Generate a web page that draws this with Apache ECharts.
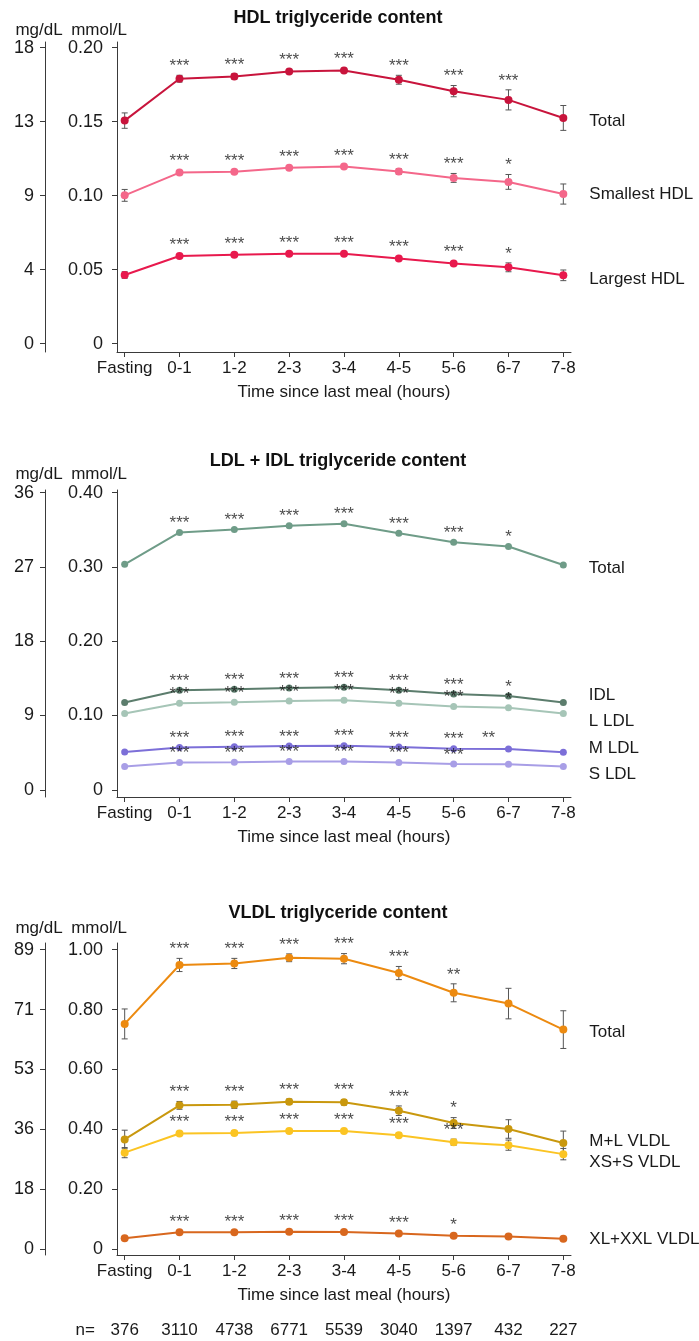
<!DOCTYPE html>
<html>
<head>
<meta charset="utf-8">
<script src="https://cdn.jsdelivr.net/npm/echarts@6/dist/echarts.min.js"></script>
<style>
  html, body { margin: 0; padding: 0; background: #fff; }
  #chart { width: 699px; height: 1341px; }
</style>
</head>
<body>
<div id="chart"></div>
<script>
// categories and sample sizes
const categories = ['Fasting', '0-1', '1-2', '2-3', '3-4', '4-5', '5-6', '6-7', '7-8'];
const nCounts = ['376', '3110', '4738', '6771', '5539', '3040', '1397', '432', '227'];

// HDL triglycerides (mmol/L), error = half length of bar
const hdlTotal = [0.1507, 0.1790, 0.1805, 0.1839, 0.1846, 0.1783, 0.1706, 0.1647, 0.1525];
const hdlTotalErr = [0.0052, 0.0023, 0.0018, 0.0014, 0.0014, 0.0030, 0.0038, 0.0068, 0.0084];
const hdlTotalSig = ['', '***', '***', '***', '***', '***', '***', '***', ''];
const hdlSmallest = [0.1002, 0.1156, 0.1161, 0.1188, 0.1197, 0.1163, 0.1120, 0.1093, 0.1011];
const hdlSmallestErr = [0.0040, 0.0014, 0.0011, 0.0009, 0.0009, 0.0018, 0.0030, 0.0050, 0.0068];
const hdlSmallestSig = ['', '***', '***', '***', '***', '***', '***', '*', ''];
const hdlLargest = [0.0464, 0.0592, 0.0601, 0.0608, 0.0608, 0.0576, 0.0541, 0.0516, 0.0462];
const hdlLargestErr = [0.0022, 0.0010, 0.0009, 0.0009, 0.0009, 0.0011, 0.0013, 0.0030, 0.0036];
const hdlLargestSig = ['', '***', '***', '***', '***', '***', '***', '*', ''];

// LDL + IDL triglycerides (mmol/L)
const ldlTotal = [0.3036, 0.3464, 0.3505, 0.3554, 0.3581, 0.3455, 0.3333, 0.3275, 0.3027];
const ldlTotalSig = ['', '***', '***', '***', '***', '***', '***', '*', ''];
const idl = [0.1174, 0.1339, 0.1353, 0.1370, 0.1380, 0.1339, 0.1290, 0.1263, 0.1174];
const idlSig = ['', '***', '***', '***', '***', '***', '***', '*', ''];
const lLdl = [0.1027, 0.1165, 0.1179, 0.1196, 0.1205, 0.1165, 0.1120, 0.1103, 0.1027];
const lLdlSig = ['', '***', '***', '***', '***', '***', '***', '*', ''];
const mLdl = [0.0509, 0.0571, 0.0580, 0.0589, 0.0594, 0.0576, 0.0554, 0.0549, 0.0504];
const mLdlSig = ['', '***', '***', '***', '***', '***', '***', '**', ''];
const sLdl = [0.0312, 0.0366, 0.0370, 0.0380, 0.0380, 0.0366, 0.0348, 0.0344, 0.0312];
const sLdlSig = ['', '***', '***', '***', '***', '***', '***', '', ''];

// VLDL triglycerides (mmol/L)
const vldlTotal = [0.752, 0.949, 0.954, 0.973, 0.970, 0.922, 0.856, 0.820, 0.733];
const vldlTotalErr = [0.050, 0.022, 0.017, 0.013, 0.017, 0.022, 0.030, 0.051, 0.063];
const vldlTotalSig = ['', '***', '***', '***', '***', '***', '**', '', ''];
const mlVldl = [0.366, 0.480, 0.482, 0.492, 0.490, 0.462, 0.421, 0.401, 0.354];
const mlVldlErr = [0.031, 0.013, 0.012, 0.009, 0.009, 0.016, 0.018, 0.031, 0.040];
const mlVldlSig = ['', '***', '***', '***', '***', '***', '*', '', ''];
const xsVldl = [0.322, 0.386, 0.388, 0.394, 0.394, 0.380, 0.357, 0.347, 0.317];
const xsVldlErr = [0.017, 0.006, 0.006, 0.006, 0.006, 0.007, 0.010, 0.017, 0.019];
const xsVldlSig = ['', '***', '***', '***', '***', '***', '***', '', ''];
const xlVldl = [0.036, 0.056, 0.056, 0.058, 0.057, 0.052, 0.044, 0.042, 0.034];
const xlVldlErr = [0.004, 0.004, 0.004, 0.004, 0.004, 0.004, 0.004, 0.004, 0.004];
const xlVldlSig = ['', '***', '***', '***', '***', '***', '*', '', ''];

// tick values and labels of the paired axes
const hdlTicks = [0, 0.05, 0.10, 0.15, 0.20];
const hdlMmolLabels = ['0', '0.05', '0.10', '0.15', '0.20'];
const hdlMgLabels = ['0', '4', '9', '13', '18'];
const ldlTicks = [0, 0.10, 0.20, 0.30, 0.40];
const ldlMmolLabels = ['0', '0.10', '0.20', '0.30', '0.40'];
const ldlMgLabels = ['0', '9', '18', '27', '36'];
const vldlTicks = [0, 0.20, 0.40, 0.60, 0.80, 1.00];
const vldlMmolLabels = ['0', '0.20', '0.40', '0.60', '0.80', '1.00'];
const vldlMgLabels = ['0', '18', '36', '53', '71', '89'];

const FONT = "'Liberation Sans', Arial, sans-serif";
const TEXT = '#1a1a1a';
const AXIS = '#3a3a3a';
const catIdx = categories.map((c, i) => i);

const panels = [{
    title: 'HDL triglyceride content', titleTop: 9, top: 42, bottom: 352,
    min: -0.0056, max: 0.2038, nameGap: 3, symbolSize: 8,
    ticks: hdlTicks, mmol: hdlMmolLabels, mg: hdlMgLabels,
    series: [
        {name: 'Total', values: hdlTotal, err: hdlTotalErr, sig: hdlTotalSig, color: '#c8143c', dy: 3},
        {name: 'Smallest HDL', values: hdlSmallest, err: hdlSmallestErr, sig: hdlSmallestSig, color: '#f4678a', dy: 0},
        {name: 'Largest HDL', values: hdlLargest, err: hdlLargestErr, sig: hdlLargestSig, color: '#e8194d', dy: 4}
    ]
}, {
    title: 'LDL + IDL triglyceride content', titleTop: 452, top: 490, bottom: 797,
    min: -0.0097, max: 0.4036, nameGap: 7, symbolSize: 7,
    ticks: ldlTicks, mmol: ldlMmolLabels, mg: ldlMgLabels,
    series: [
        {name: 'Total', values: ldlTotal, sig: ldlTotalSig, color: '#6f9c88', dy: 3},
        {name: 'IDL', values: idl, sig: idlSig, color: '#5c7d6d', dy: -7},
        {name: 'L LDL', values: lLdl, sig: lLdlSig, color: '#a6c5b7', dy: 8},
        {name: 'M LDL', values: mLdl, sig: mLdlSig, color: '#7c6fd8', dy: -4, starShift: {7: [-20, -2]}},
        {name: 'S LDL', values: sLdl, sig: sLdlSig, color: '#a89ee6', dy: 8}
    ]
}, {
    title: 'VLDL triglyceride content', titleTop: 904, top: 943, bottom: 1255,
    min: -0.02, max: 1.0224, nameGap: 6, symbolSize: 8,
    ticks: vldlTicks, mmol: vldlMmolLabels, mg: vldlMgLabels,
    series: [
        {name: 'Total', values: vldlTotal, err: vldlTotalErr, sig: vldlTotalSig, color: '#ec8a10', dy: 3},
        {name: 'M+L VLDL', values: mlVldl, err: mlVldlErr, sig: mlVldlSig, color: '#c9980e', dy: -2},
        {name: 'XS+S VLDL', values: xsVldl, err: xsVldlErr, sig: xsVldlSig, color: '#fbc423', dy: 8},
        {name: 'XL+XXL VLDL', values: xlVldl, err: xlVldlErr, sig: xlVldlSig, color: '#d8671e', dy: 0}
    ]
}];

function labelFor(ticks, labels) {
    return function (v) {
        const i = ticks.findIndex(t => Math.abs(t - v) < 1e-9);
        return i < 0 ? '' : labels[i];
    };
}

//误差线，custom系列画竖线加上下短横
function renderErrorBar(params, api) {
    const x = api.value(0);
    const lo = api.coord([x, api.value(1)]);
    const hi = api.coord([x, api.value(2)]);
    const w = 3;
    const style = {stroke: '#555', lineWidth: 1};
    return {
        type: 'group',
        children: [
            {type: 'line', shape: {x1: hi[0], y1: hi[1], x2: lo[0], y2: lo[1]}, style},
            {type: 'line', shape: {x1: hi[0] - w, y1: hi[1], x2: hi[0] + w, y2: hi[1]}, style},
            {type: 'line', shape: {x1: lo[0] - w, y1: lo[1], x2: lo[0] + w, y2: lo[1]}, style}
        ]
    };
}

const titles = [];
const grids = [];
const xAxes = [];
const yAxes = [];
const series = [];

panels.forEach(function (p, k) {
    titles.push({
        text: p.title, left: 338, top: p.titleTop, textAlign: 'center', padding: 0,
        textStyle: {fontFamily: FONT, fontSize: 18, fontWeight: 'bold', color: '#111'}
    });
    grids.push({left: 117, right: 128, top: p.top, height: p.bottom - p.top});
    xAxes.push({
        gridIndex: k, type: 'value', min: -0.14, max: 8.14,
        axisLine: {show: true, onZero: false, lineStyle: {color: AXIS, width: 1}},
        axisTick: {show: true, length: 5, customValues: catIdx, lineStyle: {color: AXIS}},
        axisLabel: {
            customValues: catIdx, formatter: v => categories[v],
            fontFamily: FONT, fontSize: 17, color: TEXT, margin: 8
        },
        splitLine: {show: false},
        name: 'Time since last meal (hours)', nameLocation: 'middle', nameGap: 32,
        nameTextStyle: {fontFamily: FONT, fontSize: 17, color: TEXT}
    });
    const yBase = {
        gridIndex: k, type: 'value', min: p.min, max: p.max, position: 'left',
        axisLine: {show: true, onZero: false, lineStyle: {color: AXIS, width: 1}},
        axisTick: {show: true, length: 5, customValues: p.ticks, lineStyle: {color: AXIS}},
        splitLine: {show: false},
        nameLocation: 'end', nameGap: p.nameGap
    };
    yAxes.push(Object.assign({}, yBase, {
        axisLabel: {customValues: p.ticks, formatter: labelFor(p.ticks, p.mmol),
            fontFamily: FONT, fontSize: 18, color: TEXT, margin: 14},
        name: 'mmol/L',
        nameTextStyle: {fontFamily: FONT, fontSize: 17, color: TEXT, align: 'center', padding: [0, 36, 0, 0]}
    }));
    yAxes.push(Object.assign({}, yBase, {
        offset: 72,
        axisLabel: {customValues: p.ticks, formatter: labelFor(p.ticks, p.mg),
            fontFamily: FONT, fontSize: 18, color: TEXT, margin: 11},
        name: 'mg/dL',
        nameTextStyle: {fontFamily: FONT, fontSize: 17, color: TEXT, align: 'center', padding: [0, 12, 0, 0]}
    }));

    p.series.forEach(function (s) {
        const last = s.values.length - 1;
        if (s.err) {
            series.push({
                type: 'custom', xAxisIndex: k, yAxisIndex: 2 * k, z: 1, silent: true,
                renderItem: renderErrorBar,
                encode: {x: 0, y: [1, 2]},
                data: s.values.map((v, i) => [i, v - s.err[i], v + s.err[i]])
            });
        }
        series.push({
            type: 'line', name: s.name, xAxisIndex: k, yAxisIndex: 2 * k, z: 2,
            symbol: 'circle', symbolSize: p.symbolSize,
            lineStyle: {color: s.color, width: 2},
            itemStyle: {color: s.color},
            data: s.values.map(function (v, i) {
                if (i !== last) return [i, v];
                return {
                    value: [i, v],
                    label: {
                        show: true, position: 'right', distance: 22, offset: [0, s.dy],
                        formatter: s.name, fontFamily: FONT, fontSize: 17, color: TEXT
                    }
                };
            })
        });
        // 显著性星号，放在误差线上端之上
        series.push({
            type: 'scatter', xAxisIndex: k, yAxisIndex: 2 * k, z: 3, silent: true,
            symbolSize: 1, itemStyle: {color: 'rgba(0,0,0,0)'},
            label: {
                show: true, position: 'top', distance: 0,
                formatter: params => s.sig[params.dataIndex],
                fontFamily: FONT, fontSize: 17, color: TEXT
            },
            data: s.values.map(function (v, i) {
                const y = v + (s.err ? s.err[i] : 0);
                const shift = s.starShift && s.starShift[i];
                if (!shift) return [i, y];
                return {value: [i, y], label: {offset: shift}};
            })
        });
    });
});

// 最下方样本量一行
xAxes.push({
    gridIndex: 2, type: 'value', min: -0.14, max: 8.14, position: 'bottom', offset: 75,
    axisLine: {show: false}, axisTick: {show: false}, splitLine: {show: false},
    axisLabel: {
        customValues: catIdx, formatter: v => nCounts[v],
        fontFamily: FONT, fontSize: 17, color: TEXT, margin: 0, verticalAlign: 'middle'
    }
});

const chart = echarts.init(document.getElementById('chart'), null, {renderer: 'canvas'});
chart.setOption({
    animation: false,
    backgroundColor: '#fff',
    title: titles,
    grid: grids,
    xAxis: xAxes,
    yAxis: yAxes,
    graphic: [{
        type: 'text', x: 95, y: 1330,
        style: {text: 'n=', align: 'right', verticalAlign: 'middle',
            fontFamily: FONT, fontSize: 17, fill: TEXT}
    }],
    series: series
});
</script>
</body>
</html>
